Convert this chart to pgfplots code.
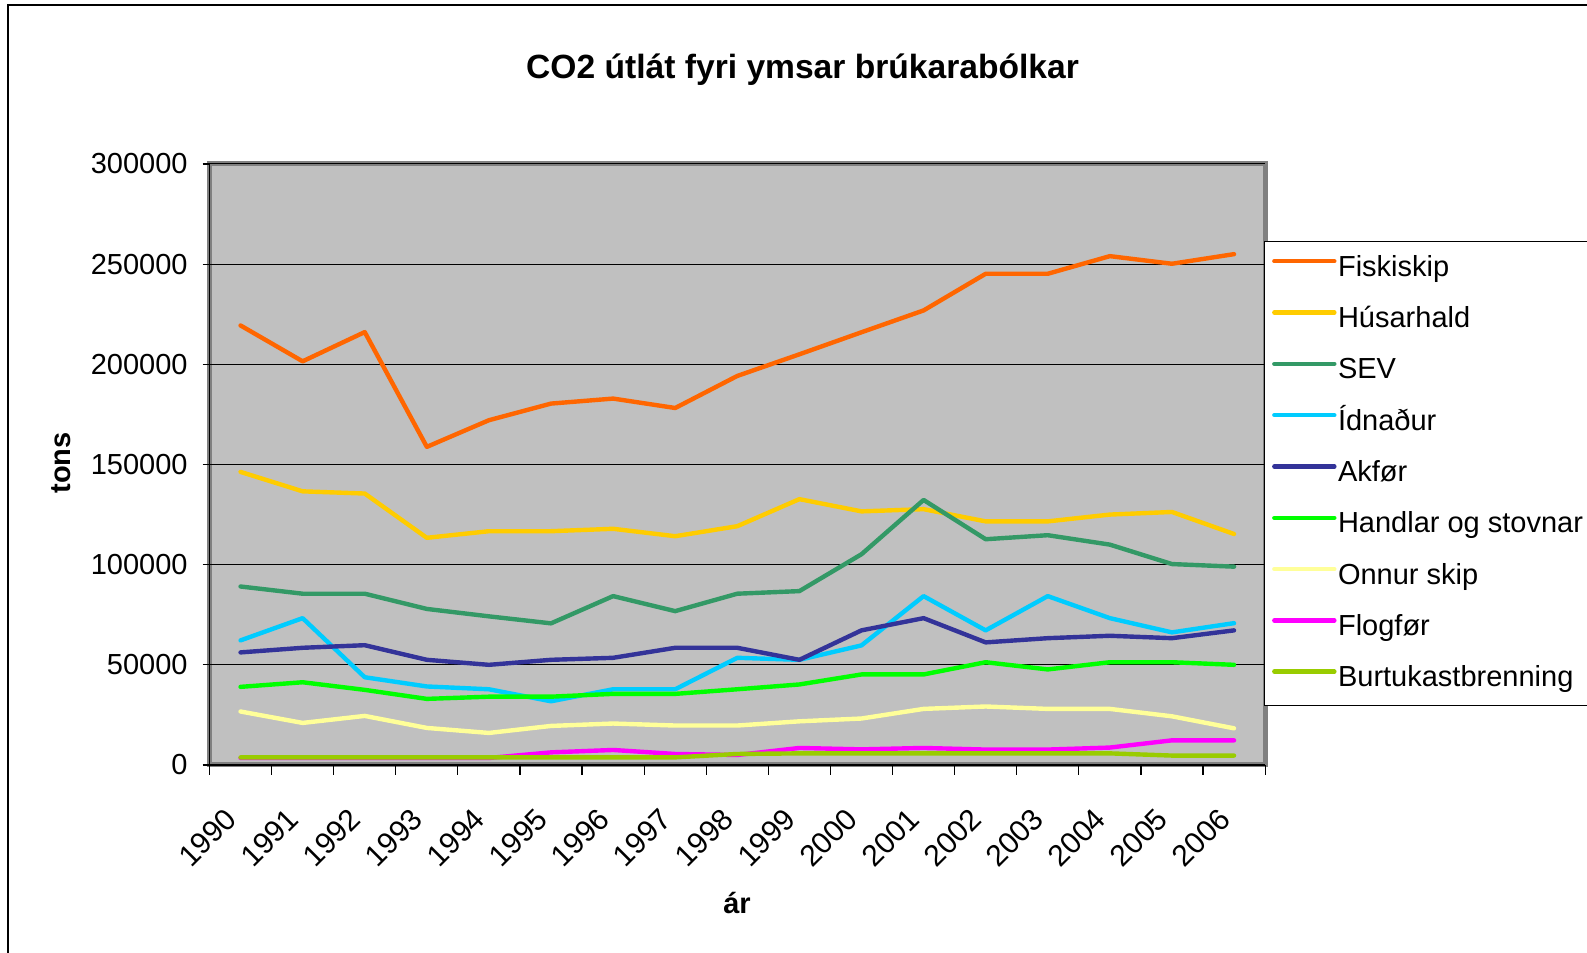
\documentclass[border=0pt]{standalone}
\usepackage{pgfplots}
\pgfplotsset{compat=1.18}
\usepackage{pgfplotstable}
\usepackage{fontspec}
\setmainfont{Liberation Sans}
\definecolor{cFisk}{HTML}{FF6600}
\definecolor{cHus}{HTML}{FFCC00}
\definecolor{cSEV}{HTML}{339966}
\definecolor{cIdn}{HTML}{00CCFF}
\definecolor{cAkf}{HTML}{333399}
\definecolor{cHan}{HTML}{00FF00}
\definecolor{cOnn}{HTML}{FFFF99}
\definecolor{cFlo}{HTML}{FF00FF}
\definecolor{cBur}{HTML}{99CC00}
\definecolor{plotbg}{HTML}{C0C0C0}
\definecolor{plotbd}{HTML}{808080}
\pgfplotstableread{
x  fisk   hus    sev    idn    akf    han    onn    flo    bur
0  219400 146300 89100  62200  56200  39000  26700  3500   3800
1  201500 136600 85500  73300  58500  41300  21000  3500   3800
2  216100 135500 85500  43800  59800  37500  24500  3500   3800
3  158800 113400 77900  39200  52500  33000  18500  3500   3800
4  172100 116700 74200  37800  50000  34100  16000  3500   3800
5  180400 116700 70700  31800  52500  34100  19500  6300   3800
6  182900 117900 84300  37800  53500  35500  20700  7500   3800
7  178200 114200 76800  37800  58500  35500  19700  5500   3800
8  194200 119200 85500  53500  58500  37800  19700  5000   5500
9  205000 132700 86800  52500  52500  40200  21800  8500   5800
10 216000 126600 105200 59700  67200  45200  23200  7800   5800
11 226900 127700 132300 84300  73300  45200  28000  8500   5800
12 245200 121600 112700 67200  61200  51300  29200  7700   5800
13 245200 121600 114700 84300  63300  47700  28000  7700   5800
14 254000 125000 110000 73300  64500  51300  28000  8700   5800
15 250200 126300 100300 66200  63300  51300  24300  12300  4700
16 255000 115300 99000  70800  67200  50000  18300  12300  4700
}\datatable
\begin{document}
\begin{tikzpicture}
\useasboundingbox (0,0) rectangle (793.5pt,476.5pt);
\draw[black, line width=1pt] (4pt,-2pt) -- (4pt,474pt) -- (800pt,474pt);
\begin{axis}[
  at={(104.75pt,94pt)}, anchor=south west,
  scale only axis, width=527.8pt, height=300.5pt,
  xmin=-0.5, xmax=16.5, ymin=0, ymax=300000,
  axis background/.style={fill=plotbg, draw=plotbd, line width=2.5pt},
  axis x line*=bottom, axis y line*=left,
  axis line style={black, line width=0.6pt},
  tick align=outside,
  xtick={0,1,...,16},
  xticklabels={1990,1991,1992,1993,1994,1995,1996,1997,1998,1999,2000,2001,2002,2003,2004,2005,2006},
  major x tick style={draw=none},
  minor xtick={-0.5,0.5,...,16.5},
  major tick length=3.5pt,
  minor tick length=5pt,
  xticklabel style={font=\fontsize{15}{16}\selectfont, inner sep=0pt, xshift=-8.5pt, yshift=-17pt, rotate=45, anchor=north east},
  ytick={0,50000,100000,150000,200000,250000,300000},
  yticklabels={0,50000,100000,150000,200000,250000,300000},
  scaled y ticks=false,
  yticklabel style={font=\fontsize{14.5}{16}\selectfont, inner sep=0pt, xshift=-7.25pt},
  ymajorgrids, grid style={black, line width=0.5pt},
  tick style={black, line width=0.6pt},
  legend style={at={(0.999,0.8724)}, anchor=north west, draw=black, line width=0.6pt, fill=white,
    font=\fontsize{14.5}{16}\selectfont, inner xsep=3.75pt, inner ysep=6.5pt, row sep=11.65pt,
    nodes={inner xsep=0.75pt, inner ysep=0pt, text height=11pt, text depth=3pt}},
  legend cell align=left,
  legend image code/.code={\draw[#1, line width=2.2pt] (0pt,3.5pt) -- (30pt,3.5pt);},
  every axis plot/.append style={line width=2.2pt, line join=round, line cap=round, no markers},
]
\addplot[cFisk] table[x=x,y=fisk] {\datatable};
\addlegendentry{Fiskiskip}
\addplot[cHus] table[x=x,y=hus] {\datatable};
\addlegendentry{Húsarhald}
\addplot[cSEV] table[x=x,y=sev] {\datatable};
\addlegendentry{SEV}
\addplot[cIdn] table[x=x,y=idn] {\datatable};
\addlegendentry{Ídnaður}
\addplot[cAkf] table[x=x,y=akf] {\datatable};
\addlegendentry{Akfør}
\addplot[cHan] table[x=x,y=han] {\datatable};
\addlegendentry{Handlar og stovnar}
\addplot[cOnn] table[x=x,y=onn] {\datatable};
\addlegendentry{Onnur skip}
\addplot[cFlo] table[x=x,y=flo] {\datatable};
\addlegendentry{Flogfør}
\addplot[cBur] table[x=x,y=bur] {\datatable};
\addlegendentry{Burtukastbrenning}
\end{axis}
\node[font=\bfseries\fontsize{16.8}{19}\selectfont, anchor=base, inner sep=0pt] at (401.3pt,437pt) {CO2 útlát fyri ymsar brúkarabólkar};
\node[font=\bfseries\fontsize{14.5}{17}\selectfont, rotate=90] at (30.5pt,245pt) {tons};
\node[font=\bfseries\fontsize{14.5}{17}\selectfont] at (368.5pt,25pt) {ár};
\end{tikzpicture}
\end{document}
